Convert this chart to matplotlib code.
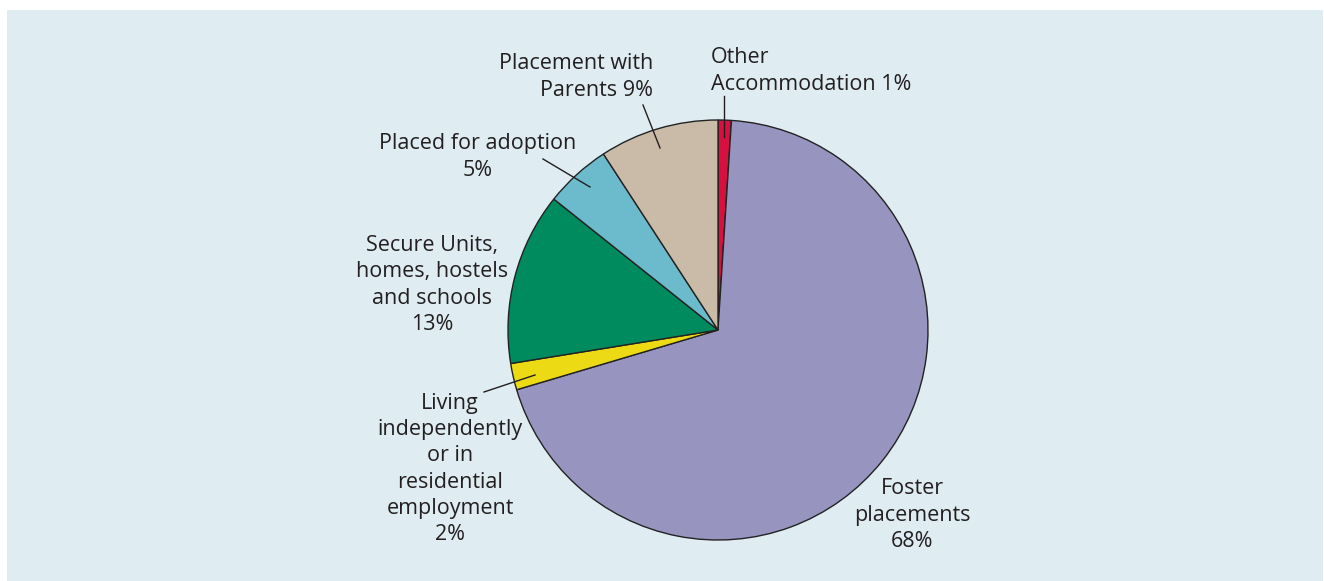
#!/usr/bin/env python3

import matplotlib.pyplot as plt
from matplotlib.patches import Rectangle

# Data (clockwise from 12 o'clock)
labels = ['Other\nAccommodation 1%', 'Foster\nplacements\n68%',
          'Living\nindependently\nor in\nresidential\nemployment\n2%',
          'Secure Units,\nhomes, hostels\nand schools\n13%',
          'Placed for adoption\n5%', 'Placement with\nParents 9%']
values = [1, 68, 2, 13, 5, 9]
colors = ['#d7103f', '#9794c0', '#ecdb14', '#008b5f', '#6bbbcd', '#c9bba7']

W, H = 1324, 581
fig = plt.figure(figsize=(W / 100, H / 100), dpi=100, facecolor='white')

ax = fig.add_axes([0, 0, 1, 1])
ax.axis('off')

# light blue panel
ax.add_patch(Rectangle((7, 10), W - 8, H - 10, facecolor='#dfedf2',
                       edgecolor='none', zorder=0))

# y axis is inverted later, so counterclock=True draws clockwise on screen; top = -90
wedges, _ = ax.pie(values, colors=colors, startangle=-90, counterclock=True,
                   center=(718, 330), radius=210,
                   wedgeprops=dict(edgecolor='#222222', linewidth=1.0, zorder=2))
ax.set_xlim(0, W)
ax.set_ylim(H, 0)
ax.set_aspect('equal')

font = dict(family='Open Sans', fontsize=15.5, color='#231f20', linespacing=1.32)

# label positions (x, y, alignment)
label_pos = [(711, 71, 'left'), (912, 515, 'center'), (450, 469, 'center'),
             (432, 285, 'center'), (478, 157, 'center'), (653, 77, 'right')]
for lab, (x, y, ha) in zip(labels, label_pos):
    ax.text(x, y, lab, ha=ha, va='center', multialignment=ha, zorder=3, **font)

# leader lines
leaders = [((724, 96), (724, 137)), ((643, 105), (660, 148)),
           ((543, 159), (590, 187)), ((484, 392), (535, 375))]
for (x0, y0), (x1, y1) in leaders:
    ax.plot([x0, x1], [y0, y1], color='#231f20', linewidth=1.0, zorder=3)

fig.savefig('out.png', dpi=100, facecolor=fig.get_facecolor())
